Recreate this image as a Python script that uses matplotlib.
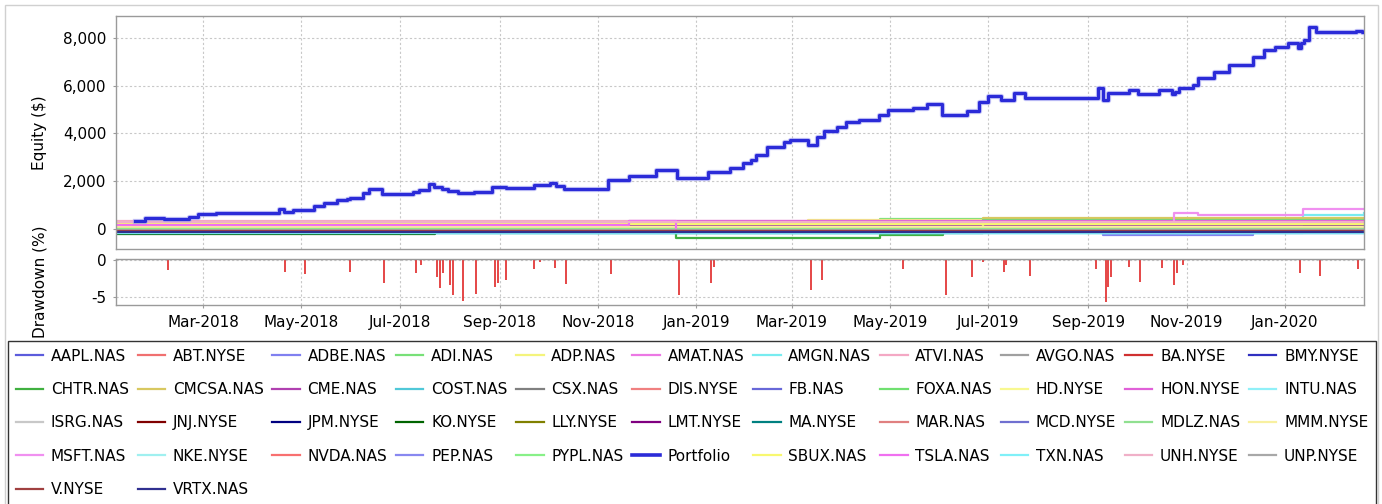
import numpy as np
import pandas as pd
import matplotlib
matplotlib.use("Agg")
import matplotlib.pyplot as plt
import matplotlib.dates as mdates
from matplotlib.lines import Line2D
from matplotlib.patches import Rectangle
from matplotlib.ticker import FuncFormatter

plt.rcParams['font.family'] = ['DejaVu Sans']
plt.rcParams['axes.unicode_minus'] = False

# ---- portfolio equity (step series) ----
port_dates = ['2018-01-18', '2018-01-24', '2018-02-05', '2018-02-20', '2018-02-26',
              '2018-03-09', '2018-04-17', '2018-04-20', '2018-04-26', '2018-05-09', '2018-05-15',
              '2018-05-23', '2018-05-29', '2018-05-31', '2018-06-08', '2018-06-12', '2018-06-20',
              '2018-07-09', '2018-07-13', '2018-07-19', '2018-07-22', '2018-07-27', '2018-07-31',
              '2018-08-06', '2018-08-16', '2018-08-27', '2018-09-05', '2018-09-22', '2018-10-02',
              '2018-10-06', '2018-10-11', '2018-11-07', '2018-11-20', '2018-12-07', '2018-12-20',
              '2019-01-08', '2019-01-22', '2019-01-30', '2019-02-04', '2019-02-07', '2019-02-14',
              '2019-02-24', '2019-02-28', '2019-03-11', '2019-03-17', '2019-03-21', '2019-03-29',
              '2019-04-04', '2019-04-12', '2019-04-24', '2019-04-30', '2019-05-15', '2019-05-24',
              '2019-06-02', '2019-06-18', '2019-06-25', '2019-07-01', '2019-07-09', '2019-07-17',
              '2019-07-24', '2019-09-04', '2019-09-07', '2019-09-10', '2019-09-13', '2019-09-26',
              '2019-10-02', '2019-10-15', '2019-10-23', '2019-10-25', '2019-10-27', '2019-11-05',
              '2019-11-08', '2019-11-18', '2019-11-27', '2019-12-12', '2019-12-19', '2019-12-26',
              '2020-01-03', '2020-01-09', '2020-01-11', '2020-01-13', '2020-01-16', '2020-01-20',
              '2020-02-14', '2020-02-18', '2020-02-19']
port_values = [320, 475, 405, 515, 615,
               655, 825, 725, 795, 963, 1100,
               1215, 1256, 1311, 1495, 1663, 1450,
               1530, 1640, 1880, 1740, 1680, 1580,
               1500, 1560, 1770, 1730, 1840, 1910,
               1780, 1660, 2050, 2220, 2470, 2120,
               2400, 2540, 2750, 2890, 3100, 3450,
               3650, 3730, 3500, 3870, 4120, 4280,
               4470, 4560, 4770, 4980, 5080, 5230,
               4780, 4950, 5330, 5560, 5400, 5700,
               5480, 5480, 5890, 5400, 5680, 5820,
               5640, 5820, 5640, 5750, 5890, 6030,
               6310, 6590, 6870, 7220, 7500, 7640,
               7780, 7570, 7780, 7920, 8470, 8260,
               8300, 8240, 8240]

# ---- drawdown bars (%) ----
dd_dates = ['2018-02-07', '2018-04-21', '2018-05-03', '2018-05-31', '2018-06-21', '2018-07-11',
            '2018-07-14', '2018-07-24', '2018-07-26', '2018-07-28', '2018-08-01', '2018-08-03',
            '2018-08-09', '2018-08-17', '2018-08-29', '2018-08-31', '2018-09-05', '2018-09-22',
            '2018-09-26', '2018-10-05', '2018-10-12', '2018-11-09', '2018-12-21', '2019-01-10',
            '2019-01-12', '2019-03-13', '2019-03-20', '2019-05-09', '2019-06-05', '2019-06-21',
            '2019-06-28', '2019-07-11', '2019-07-12', '2019-07-27', '2019-09-06', '2019-09-12',
            '2019-09-13', '2019-09-15', '2019-09-26', '2019-10-03', '2019-10-17', '2019-10-24',
            '2019-10-26', '2019-10-30', '2020-01-10', '2020-01-23', '2020-02-15']
dd_values = [-1.35, -1.6, -1.9, -1.6, -3.1, -1.8,
             -0.7, -2.3, -3.8, -1.8, -3.4, -4.7,
             -5.5, -4.6, -3.6, -3.1, -2.7, -1.2,
             -0.3, -1.1, -3.2, -1.9, -4.7, -3.1,
             -0.9, -4.1, -2.7, -1.2, -4.7, -2.3,
             -0.3, -1.6, -0.6, -2.2, -1.2, -5.7,
             -3.6, -2.3, -0.9, -3.0, -1.1, -3.4,
             -1.8, -0.7, -1.8, -2.1, -1.2]

# ---- individual symbol equity (step values at common break dates) ----
step_dates = ['2018-01-06', '2018-05-30', '2018-07-23', '2018-11-20', '2018-12-19',
              '2019-03-11', '2019-04-25', '2019-06-03', '2019-06-28', '2019-09-10',
              '2019-10-24', '2019-11-08', '2019-12-12', '2020-01-12', '2020-02-19']

symbols = ['AAPL.NAS', 'ABT.NYSE', 'ADBE.NAS', 'ADI.NAS', 'ADP.NAS', 'AMAT.NAS', 'AMGN.NAS',
           'ATVI.NAS', 'AVGO.NAS', 'BA.NYSE', 'BMY.NYSE', 'CHTR.NAS', 'CMCSA.NAS', 'CME.NAS',
           'COST.NAS', 'CSX.NAS', 'DIS.NYSE', 'FB.NAS', 'FOXA.NAS', 'HD.NYSE', 'HON.NYSE',
           'INTU.NAS', 'ISRG.NAS', 'JNJ.NYSE', 'JPM.NYSE', 'KO.NYSE', 'LLY.NYSE', 'LMT.NYSE',
           'MA.NYSE', 'MAR.NAS', 'MCD.NYSE', 'MDLZ.NAS', 'MMM.NYSE', 'MSFT.NAS', 'NKE.NYSE',
           'NVDA.NAS', 'PEP.NAS', 'PYPL.NAS', 'SBUX.NAS', 'TSLA.NAS', 'TXN.NAS',
           'UNH.NYSE', 'UNP.NYSE', 'V.NYSE', 'VRTX.NAS']

symbol_colors = ['#5c5cdc', '#f07070', '#8080f0', '#78e078', '#f4f47c', '#ec78e4', '#78ecf0',
                 '#f4a8c4', '#a0a0a0', '#d03030', '#3030c0', '#40b040', '#d8c860', '#b040b0',
                 '#50c8d8', '#808080', '#f08080', '#6868d8', '#70e070', '#f8f890', '#e060d8',
                 '#90f0f8', '#c8c8c8', '#800000', '#000080', '#006400', '#808000', '#800080',
                 '#008080', '#e08080', '#7070d0', '#90e090', '#f8f0a0', '#f090f0', '#a0f0f0',
                 '#f87070', '#8888f0', '#88f088', '#f8f870', '#f070f0', '#80f0f8',
                 '#f0b0c8', '#a8a8a8', '#a04040', '#303090']

symbol_equity = [
    [-90, -90, -90, -90, -90, 120, 120, 120, 120, 120, 120, 120, 120, 150, 150],
    [30, 30, 30, 30, 30, 30, 30, 30, 30, 60, 60, 60, 60, 60, 60],
    [-40, -40, -40, -40, -40, -40, -40, -40, -40, -250, -250, -250, -180, -180, -180],
    [10, 10, 10, 10, 10, 10, 420, 420, 420, 420, 420, 420, 420, 420, 420],
    [50, 50, 50, 50, 50, 380, 380, 380, 380, 300, 300, 300, 300, 300, 300],
    [290, 290, 290, 290, 290, 290, 290, 290, 290, 290, 290, 290, 290, 290, 290],
    [-170, -170, -170, -170, -170, -170, -170, -170, -170, -170, -170, -170, -170, 590, 670],
    [320, 320, 320, 320, 320, 320, 320, 320, 320, 320, 320, 320, 320, 320, 320],
    [-30, -30, -30, -30, -30, -30, -40, -40, -40, -40, -40, -40, -40, -40, -40],
    [40, 40, 40, 40, 40, 40, 40, 40, 40, 40, 40, -20, -20, -20, -20],
    [-110, -110, -110, -110, -110, 125, 125, 125, 125, 125, 125, 125, 125, 125, 125],
    [-110, -110, -110, -110, -390, -390, -250, -100, -100, -100, -100, -100, -100, -100, -100],
    [60, 60, 60, 60, 60, 60, 60, 60, 450, 450, 450, 450, 450, 450, 450],
    [150, 150, 150, 150, 150, 150, 150, 150, 150, 150, 150, 150, 150, 150, 150],
    [-180, -180, -180, -180, -180, -180, -180, -180, -180, -80, -180, -180, -180, -180, -180],
    [-20, -20, -20, -20, -20, -20, -20, -20, -20, -20, -20, -20, -20, -20, -20],
    [20, 20, 20, 20, 20, 20, 20, 20, 20, 20, 20, 20, 20, 20, 20],
    [-70, -70, -70, -70, -70, -70, -70, -70, -70, -70, -70, -70, -70, -70, -70],
    [0, 0, 0, 0, 0, 0, 0, 0, 380, 380, 380, 380, 380, 380, 380],
    [30, 30, 30, 30, 30, 30, 30, 30, 300, 300, 300, 300, 300, 300, 300],
    [240, 240, 240, 340, 340, 340, 340, 340, 340, 340, 340, 340, 340, 340, 340],
    [-150, -150, -150, -150, -150, -150, -150, -150, -150, -150, -150, -150, -150, -150, -150],
    [-10, 20, -10, -10, -10, -10, -10, -10, -10, -10, -10, -10, -10, -10, -10],
    [-60, -60, -60, -60, -60, -60, -60, -60, -60, -60, -60, -60, -60, -60, -60],
    [-130, -130, -130, -130, -130, -130, -130, -130, -130, -130, -130, -130, -130, -130, -130],
    [-200, -200, -110, -110, -110, -110, -110, -110, -110, -110, -110, -110, -110, 85, 85],
    [-50, -50, -50, -50, -50, -50, -50, -50, 0, 0, 0, 0, 0, 0, 0],
    [100, 100, 100, 100, 100, 100, 100, 100, 100, 100, 100, 100, 100, 100, 100],
    [-150, -150, -150, -150, -150, -150, -150, -150, 0, 0, 0, 0, 0, 0, 0],
    [45, 45, 45, 45, 45, 45, 45, 45, 45, 45, 45, 45, 45, 45, 45],
    [-60, -60, -60, -60, -60, -60, -60, -60, -60, -60, -60, -60, -60, -60, -60],
    [70, 70, 70, 70, 70, 70, 70, 70, 70, 70, 70, 70, 70, 70, 70],
    [90, 90, 90, 90, 90, 90, 90, 90, 90, 90, 90, 90, 90, 90, 90],
    [260, 260, 260, 260, 260, 260, 260, 260, 260, 260, 657, 586, 586, 825, 825],
    [-160, -160, -160, -160, -160, -160, -160, -160, -160, -160, -160, -160, -160, -160, -160],
    [10, 10, 10, 10, 10, 10, 10, 10, 10, 10, 10, 10, 10, 10, 10],
    [-30, -30, -30, -30, -30, -30, -30, -30, -30, -30, -30, -30, -30, -30, -30],
    [-20, -20, -20, -20, -20, -20, -20, -20, -20, -20, -20, -20, -20, -20, -20],
    [200, 200, 200, 200, 200, 200, 200, 200, 200, 200, 200, 200, 200, 200, 200],
    [180, 180, 180, 330, -140, -140, -140, -140, -140, -30, -30, -30, -30, -30, -30],
    [-190, -190, -190, -190, -190, -190, -190, -190, -190, -190, -190, -190, -190, -190, -190],
    [300, 300, 300, 300, 300, 300, 300, 300, 300, 300, 300, 300, 300, 300, 300],
    [-50, -50, -50, -50, -50, -50, -50, -50, -50, -50, -50, -50, -50, -50, -50],
    [-90, -90, -90, -90, -90, -90, -90, -90, -90, -90, -90, -90, -90, -90, -90],
    [-120, -120, -120, -120, -120, -120, -120, -120, -120, -120, -120, -120, -120, -120, -120],
]

PORT_COLOR = '#2b2bd8'
GRID_C = '#c8c8c8'
SPINE_C = '#9a9a9a'

W, H = 1382, 504
fig = plt.figure(figsize=(W / 100, H / 100), dpi=100)

ax_eq = fig.add_axes([116 / W, 1 - 249 / H, 1248 / W, 233 / H])
ax_dd = fig.add_axes([116 / W, 1 - 305 / H, 1248 / W, 46 / H], sharex=ax_eq)

sd = pd.to_datetime(step_dates)
for name, col, vals in zip(symbols, symbol_colors, symbol_equity):
    ax_eq.step(sd, vals, where='post', color=col, lw=1.6, zorder=2)

pd_dates = pd.to_datetime(port_dates)
ax_eq.step(pd_dates, port_values, where='post', color='#a4a4f4', lw=3.8, zorder=3, alpha=0.6)
ax_eq.step(pd_dates, port_values, where='post', color=PORT_COLOR, lw=2.3, zorder=4)

ax_dd.vlines(pd.to_datetime(dd_dates), 0, dd_values, color='#e02828', lw=1.2)

# axes styling
for ax in (ax_eq, ax_dd):
    ax.grid(True, color=GRID_C, ls=(0, (2, 2)), lw=0.8)
    ax.set_axisbelow(True)
    for sp in ax.spines.values():
        sp.set_color(SPINE_C)
        sp.set_linewidth(1.0)
    ax.tick_params(length=2, color=SPINE_C, labelsize=11, pad=5)

ax_eq.set_xlim(pd.Timestamp('2018-01-06'), pd.Timestamp('2020-02-19'))
ax_eq.set_ylim(-840, 8920)
ax_eq.set_yticks([0, 2000, 4000, 6000, 8000])
ax_eq.yaxis.set_major_formatter(FuncFormatter(lambda v, p: f'{v:,.0f}'))
ax_eq.tick_params(axis='x', labelbottom=False, length=0)
ax_eq.set_ylabel('Equity ($)', fontsize=11)
ax_eq.yaxis.set_label_coords(-0.055, 0.5)

ax_dd.set_ylim(-6.1, 0.15)
ax_dd.set_yticks([0, -5])
ax_dd.set_yticklabels(['0', '-5'])
ax_dd.xaxis.set_major_locator(mdates.MonthLocator(bymonth=[1, 3, 5, 7, 9, 11]))
ax_dd.xaxis.set_major_formatter(mdates.DateFormatter('%b-%Y'))
ax_dd.set_ylabel('Drawdown (%)', fontsize=11)
ax_dd.yaxis.set_label_coords(-0.055, 0.5)

# outer light border
fig.patches.append(Rectangle((5 / W, -0.05), 1373 / W, 1.05 - 5 / H, transform=fig.transFigure,
                             fill=False, edgecolor='#d0d0d0', lw=1.0))

# legend: entries are row-major in the reference, matplotlib fills columns
names = symbols[:38] + ['Portfolio'] + symbols[38:]
cols = symbol_colors[:38] + [PORT_COLOR] + symbol_colors[38:]
handles = [Line2D([], [], color=c, lw=(2.6 if n == 'Portfolio' else 1.6)) for n, c in zip(names, cols)]
ncol = 11
order = [r * ncol + j for j in range(ncol) for r in range(5) if r * ncol + j < len(names)]
leg = fig.legend([handles[i] for i in order], [names[i] for i in order],
                 loc='upper left', bbox_to_anchor=(8 / W, 0.0, 1368 / W, 1 - 341 / H),
                 mode='expand', ncol=ncol, fontsize=11, frameon=True, fancybox=False,
                 edgecolor='black', handlelength=1.8, handletextpad=0.5, columnspacing=0.6,
                 labelspacing=1.2, borderaxespad=0, borderpad=0.5)
leg.get_frame().set_linewidth(1.0)

fig.savefig('out.png', dpi=100)
